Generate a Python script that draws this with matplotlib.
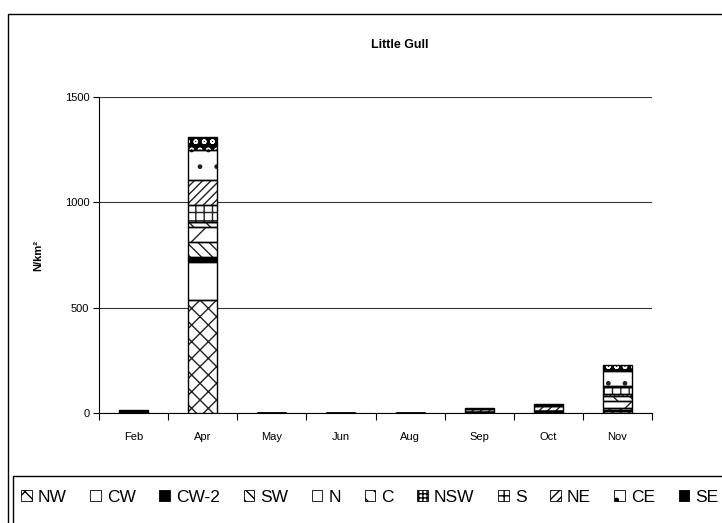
import numpy as np
import matplotlib
matplotlib.use("Agg")
import matplotlib.pyplot as plt
from matplotlib.patches import Rectangle, Patch

plt.rcParams['font.family'] = ['Liberation Sans', 'DejaVu Sans']
plt.rcParams['hatch.linewidth'] = 1.0

months = ["Feb", "Apr", "May", "Jun", "Aug", "Sep", "Oct", "Nov"]
areas = ["NW", "CW", "CW-2", "SW", "N", "C", "NSW", "S", "NE", "CE", "SE"]

# density per area (N/km²), one list per area, in month order
nw = [0, 536, 0, 0, 0, 0, 0, 10]
cw = [0, 181, 0, 0, 0, 0, 0, 0]
cw2 = [6, 23, 0, 0, 0, 5, 8, 3]
sw = [0, 71, 0, 0, 0, 0, 0, 10]
n = [0, 72, 0, 0, 0, 0, 0, 35]
c = [0, 22, 0, 0, 0, 0, 0, 22]
nsw = [0, 3, 0, 0, 0, 0, 0, 8]
s = [0, 80, 0, 0, 0, 0, 0, 35]
ne = [0, 119, 0, 0, 0, 15, 25, 5]
ce = [0, 142, 0, 0, 0, 0, 0, 70]
se = [7, 62, 0, 0, 0, 5, 12, 30]

series = [nw, cw, cw2, sw, n, c, nsw, s, ne, ce, se]

# (facecolor, hatch colour, hatch)
styles = [
    ("white", "#222222", "xx"),
    ("white", "black", ""),
    ("black", "black", ""),
    ("white", "#222222", "\\\\\\"),
    ("white", "#222222", "/"),
    ("white", "#222222", "\\\\"),
    ("white", "#222222", "++++"),
    ("white", "#222222", "++"),
    ("white", "#222222", "////"),
    ("white", "#222222", "."),
    ("black", "white", "oo"),
]

fig = plt.figure(figsize=(7.22, 5.23), dpi=100)
ax = fig.add_axes([99 / 722, 110 / 523, 553 / 722, 316 / 523])

x = np.arange(len(months))
width = 0.42
bottom = np.zeros(len(months))
for vals, (fc, hc, h) in zip(series, styles):
    vals = np.array(vals, dtype=float)
    ax.bar(x, vals, width, bottom=bottom, color=fc, edgecolor=hc, hatch=h,
           linewidth=0, zorder=3)
    ax.bar(x, vals, width, bottom=bottom, fill=False, edgecolor="black",
           linewidth=1.0, zorder=4)
    bottom += vals

ax.set_xlim(-0.5, len(months) - 0.5)
ax.set_ylim(0, 1500)
ax.set_yticks([0, 500, 1000, 1500])
ax.yaxis.grid(True, color="#333333", linewidth=0.8)
ax.set_axisbelow(True)
for side in ["top", "right"]:
    ax.spines[side].set_visible(False)
ax.spines["left"].set_linewidth(0.8)
ax.spines["bottom"].set_linewidth(0.8)

ax.set_xticks(x)
ax.set_xticklabels(months, fontsize=8)
ax.tick_params(axis="x", which="major", length=0, pad=14)
ax.set_xticks(np.arange(len(months) + 1) - 0.5, minor=True)
ax.tick_params(axis="x", which="minor", length=5, direction="out", width=0.8)
ax.tick_params(axis="y", labelsize=8, length=4, width=0.8, pad=3)

fig.text(400 / 722, 1 - 45 / 523, "Little Gull", fontsize=9,
         fontweight="bold", ha="center", va="center")
fig.text(38 / 722, 1 - 255 / 523, "N/km²", fontsize=8, fontweight="bold",
         rotation=90, ha="center", va="center")

# outer chart frame and legend frame, both running off the page
fig.patches.append(Rectangle((8 / 722, -0.1), 1.0, (1 - 14 / 523) + 0.1,
                             transform=fig.transFigure, fill=False,
                             edgecolor="black", linewidth=1.0))

handles = [Patch(facecolor=fc, edgecolor="black", hatch=h, linewidth=0.6)
           for fc, hc, h in styles]
leg = fig.legend(handles, areas, ncol=len(areas), loc="center left",
                 bbox_to_anchor=(9 / 722, 26 / 523), fontsize=12.5,
                 frameon=False, handlelength=0.6, handleheight=0.6,
                 handletextpad=0.35, columnspacing=1.37, borderpad=0.2)
fig.patches.append(Rectangle((13 / 722, -0.1), 1.0, 47 / 523 + 0.1,
                             transform=fig.transFigure, fill=False,
                             edgecolor="black", linewidth=1.0))

fig.savefig("out.png", dpi=100)
